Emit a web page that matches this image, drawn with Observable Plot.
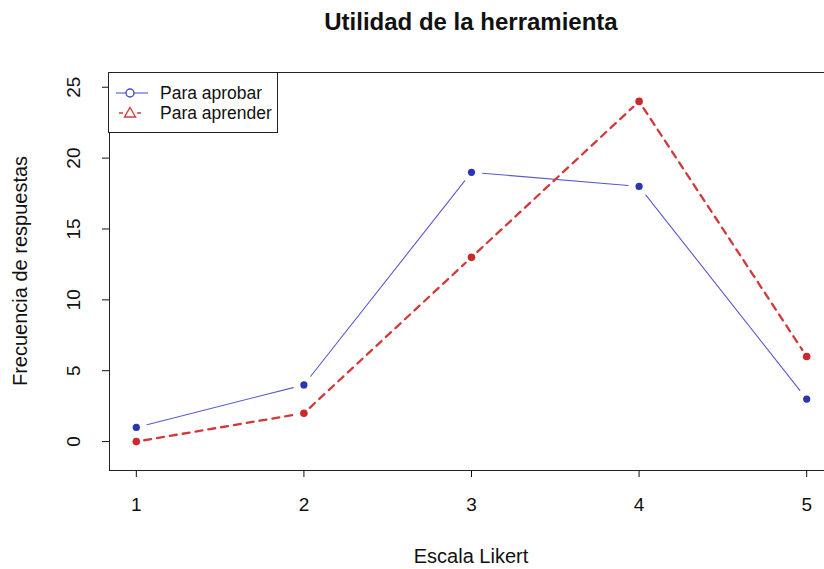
<!DOCTYPE html>
<html>
<head>
<meta charset="utf-8">
<script src="https://cdn.jsdelivr.net/npm/d3@7"></script>
<script src="https://cdn.jsdelivr.net/npm/@observablehq/plot@0.6"></script>
<style>
  html, body { margin: 0; padding: 0; background: #fff; overflow: hidden; }
  #wrap { position: relative; width: 824px; height: 569px; overflow: hidden; font-family: "Liberation Sans", Arial, sans-serif; }
  #chart { position: absolute; left: 0; top: 0; width: 840px; height: 569px; }
  #chart svg { max-width: none !important; width: 840px !important; height: 569px !important; }
  .abs { position: absolute; white-space: nowrap; color: #111; }
  #title { left: 0; width: 942px; top: 8px; text-align: center; font-weight: bold; font-size: 24px; }
  #xlabel { left: 0; width: 942px; top: 545px; text-align: center; font-size: 20px; }
  #ylabel { left: 20px; top: 271px; font-size: 20px; transform: translate(-50%, -50%) rotate(-90deg); }
  #legend { left: 108px; top: 72px; width: 168px; height: 59px; border: 1px solid #222; background: #fff; }
  #legend .item { position: absolute; left: 0; height: 20px; }
  #legend svg { position: absolute; left: 4px; top: 0; }
  #legend span { position: absolute; left: 51px; top: 0; font-size: 17.5px; line-height: 20px; }
</style>
</head>
<body>
<div id="wrap">
  <div id="chart"></div>
  <div id="title" class="abs">Utilidad de la herramienta</div>
  <div id="xlabel" class="abs">Escala Likert</div>
  <div id="ylabel" class="abs">Frecuencia de respuestas</div>
  <div id="legend" class="abs"></div>
</div>
<script>
const likert = [1, 2, 3, 4, 5];
const paraAprobar = [1, 4, 19, 18, 3];
const paraAprender = [0, 2, 13, 24, 6];
const seriesNames = ["Para aprobar", "Para aprender"];
const xTicks = [1, 2, 3, 4, 5];
const yTicks = [0, 5, 10, 15, 20, 25];

const blueLine = "#5a5acc";
const bluePt = "#2a35b0";
const redLine = "#d23a3a";
const redPt = "#cc2a2a";

function points(vals) { return likert.map((x, i) => ({x, y: vals[i]})); }
function segments(vals) {
  const s = [];
  for (let i = 0; i < likert.length - 1; i++) s.push({x1: likert[i], y1: vals[i], x2: likert[i + 1], y2: vals[i + 1]});
  return s;
}

const chart = Plot.plot({
  width: 840,
  height: 569,
  marginLeft: 109,
  marginRight: 7,
  marginTop: 72,
  marginBottom: 99,
  style: {fontFamily: "'Liberation Sans', Arial, sans-serif", background: "transparent", color: "#111", maxWidth: "none"},
  x: {domain: [0.84, 5.16]},
  y: {domain: [-2.04, 26.04]},
  marks: [
    Plot.frame({stroke: "#222", strokeWidth: 1}),
    Plot.axisX({ticks: xTicks, tickSize: 7, tickPadding: 20, fontSize: 19, label: null, tickFormat: d => String(d)}),
    Plot.axisY({ticks: yTicks, tickSize: 7, label: null, tickFormat: () => ""}),
    Plot.text(yTicks, {y: d => d, text: d => String(d), frameAnchor: "left", dx: -36, rotate: -90, fontSize: 19, textAnchor: "middle", lineAnchor: "middle", fill: "#111"}),
    Plot.arrow(segments(paraAprobar), {x1: "x1", y1: "y1", x2: "x2", y2: "y2", headLength: 0, insetStart: 11, insetEnd: 11, stroke: blueLine, strokeWidth: 1.1}),
    Plot.arrow(segments(paraAprender), {x1: "x1", y1: "y1", x2: "x2", y2: "y2", headLength: 0, insetStart: 8, insetEnd: 8, stroke: redLine, strokeWidth: 2.3, strokeDasharray: "7,6"}),
    Plot.dot(points(paraAprobar), {x: "x", y: "y", r: 3.6, fill: bluePt, stroke: "none"}),
    Plot.dot(points(paraAprender), {x: "x", y: "y", r: 3.8, fill: redPt, stroke: "none"})
  ]
});
document.getElementById("chart").appendChild(chart);

// legend
const legend = document.getElementById("legend");
const legendStyles = [
  {name: seriesNames[0], top: 10, line: blueLine, dash: null, width: 1.1, sym: "circle", color: "#4a4ac8"},
  {name: seriesNames[1], top: 30, line: redLine, dash: "4,14", width: 1.5, sym: "triangle", color: "#d04040"}
];
legendStyles.forEach(st => {
  const item = document.createElement("div");
  item.className = "item";
  item.style.top = st.top + "px";
  item.style.width = "168px";
  const svg = d3.create("svg").attr("width", 40).attr("height", 20);
  const ln = svg.append("line").attr("x1", 3).attr("x2", 35).attr("y1", 10).attr("y2", 10)
    .attr("stroke", st.line).attr("stroke-width", st.width);
  if (st.dash) ln.attr("stroke-dasharray", st.dash).attr("stroke-dashoffset", -3);
  if (st.sym === "circle") {
    svg.append("circle").attr("cx", 17).attr("cy", 10).attr("r", 4).attr("fill", "#fff").attr("stroke", st.color).attr("stroke-width", 1.4);
  } else {
    svg.append("path").attr("d", "M17,4.5 L22.5,14 L11.5,14 Z").attr("fill", "#fff").attr("stroke", st.color).attr("stroke-width", 1.4);
  }
  item.appendChild(svg.node());
  const sp = document.createElement("span");
  sp.textContent = st.name;
  item.appendChild(sp);
  legend.appendChild(item);
});
</script>
</body>
</html>
